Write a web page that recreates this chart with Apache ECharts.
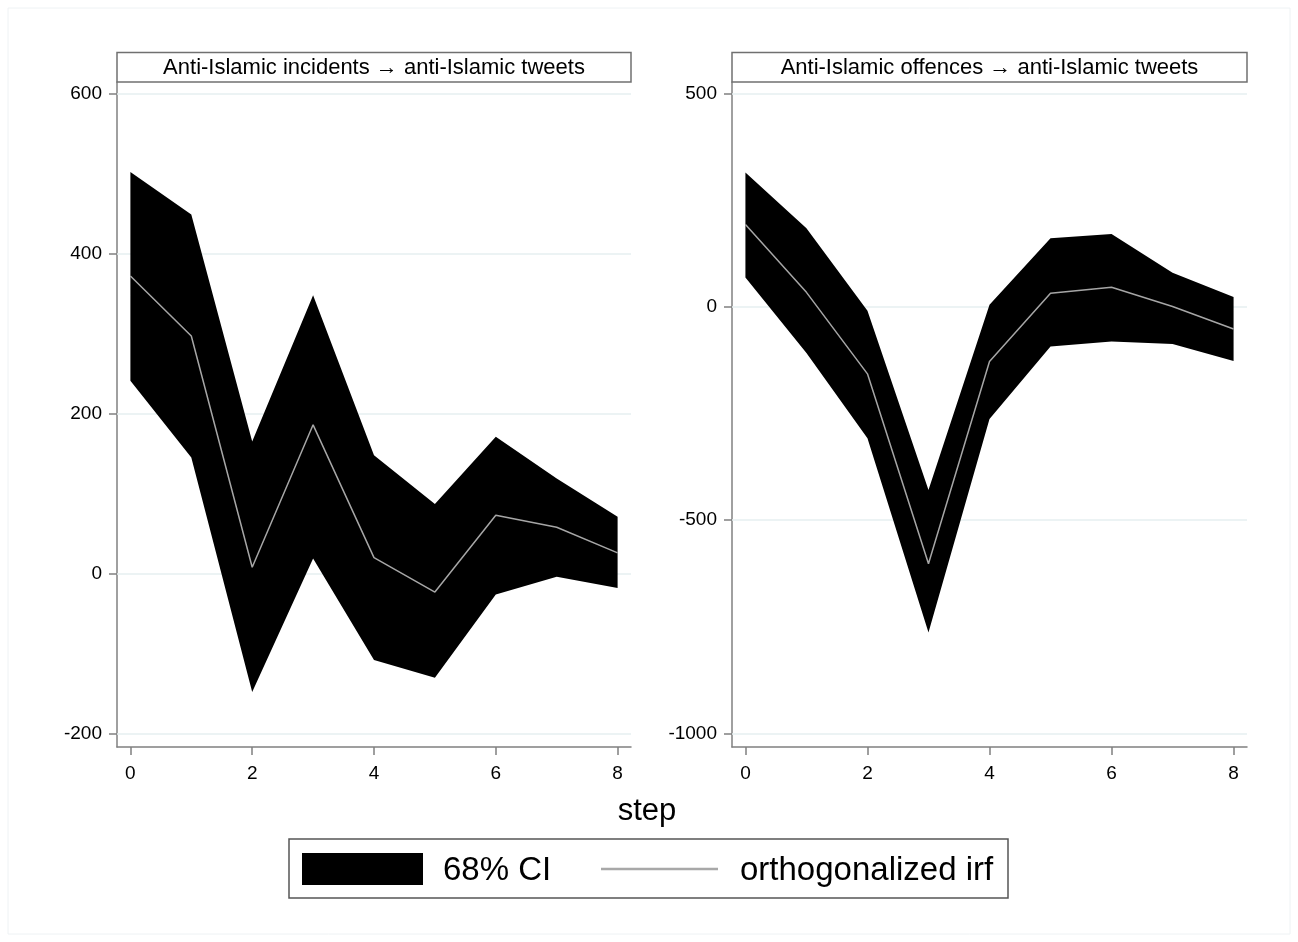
<!DOCTYPE html>
<html>
<head>
<meta charset="utf-8">
<style>
  html, body { margin: 0; padding: 0; background: #fff; }
  #chart { width: 1298px; height: 942px; }
</style>
<script src="https://cdn.jsdelivr.net/npm/echarts@6.0.0/dist/echarts.min.js"></script>
</head>
<body>
<div id="chart"></div>
<script>
// impulse responses
const steps = [0, 1, 2, 3, 4, 5, 6, 7, 8]
const incLower = [241, 145, -148, 19, -108, -130, -26, -4, -18]
const incIrf = [372, 297, 8, 186, 20, -23, 73, 58, 26]
const incUpper = [502, 449, 165, 348, 148, 87, 171, 119, 71]
const offLower = [69, -108, -308, -763, -263, -93, -81, -87, -127]
const offIrf = [193, 34, -157, -602, -128, 32, 46, 1, -52]
const offUpper = [315, 184, -9, -429, 5, 161, 171, 80, 23]

const xTicks = [0, 2, 4, 6, 8]
const incTicks = [-200, 0, 200, 400, 600]
const offTicks = [-1000, -500, 0, 500]

const panelTitles = ['Anti-Islamic incidents \u2192 anti-Islamic tweets', 'Anti-Islamic offences \u2192 anti-Islamic tweets']
const legendNames = ['68% CI', 'orthogonalized irf']
const xTitle = 'step'

const FONT = '"Liberation Sans", Arial, sans-serif'
const AXIS_GREY = '#808080'
const GRID_COLOR = '#e6eff1'

function xAxis(gridIndex) {
  return {
    type: 'value', gridIndex, min: -0.22, max: 8.22,
    splitLine: { show: false },
    axisLine: { onZero: false, lineStyle: { color: AXIS_GREY, width: 1.5 } },
    axisTick: { customValues: xTicks, length: 8, lineStyle: { color: AXIS_GREY, width: 1.5 } },
    axisLabel: { customValues: xTicks, color: '#000', fontSize: 19, fontFamily: FONT, margin: 17, formatter: v => String(v) }
  }
}

function yAxis(gridIndex, min, max, ticks) {
  return {
    type: 'value', gridIndex, min, max,
    splitLine: { show: false },
    axisLine: { show: true, onZero: false, lineStyle: { color: AXIS_GREY, width: 1.5 } },
    axisTick: { show: true, customValues: ticks, length: 8, lineStyle: { color: AXIS_GREY, width: 1.5 } },
    axisLabel: { customValues: ticks, color: '#000', fontSize: 19, fontFamily: FONT, margin: 15, formatter: v => String(v) }
  }
}

// black band between lower and upper bound, drawn as one polygon
function band(idx, lower, upper) {
  return {
    type: 'custom', xAxisIndex: idx, yAxisIndex: idx, z: 2, silent: true,
    data: [[0, 0]],
    renderItem(params, api) {
      const top = upper.map((v, i) => api.coord([steps[i], v]))
      const bottom = lower.map((v, i) => api.coord([steps[i], v])).reverse()
      return { type: 'polygon', shape: { points: top.concat(bottom) }, style: { fill: '#000' } }
    }
  }
}

function irfLine(idx, values, ticks) {
  return {
    type: 'line', xAxisIndex: idx, yAxisIndex: idx, z: 3, silent: true,
    data: steps.map((s, i) => [s, values[i]]),
    showSymbol: false,
    lineStyle: { color: '#a6a6a6', width: 1.5 },
    // light horizontal grid at the tick values, behind the band
    markLine: {
      silent: true, symbol: 'none', z: 1, label: { show: false },
      lineStyle: { color: GRID_COLOR, width: 1.5, type: 'solid' },
      data: ticks.map(v => ({ yAxis: v }))
    }
  }
}

function titleBox(x, w, text) {
  return [
    { type: 'rect', shape: { x, y: 52.5, width: w, height: 29.5 }, style: { fill: '#fff', stroke: '#707070', lineWidth: 1.5 }, z: 10 },
    { type: 'text', x: x + w / 2, y: 68, style: { text, fill: '#000', font: '22px ' + FONT, align: 'center', verticalAlign: 'middle' }, z: 11 }
  ]
}

const chart = echarts.init(document.getElementById('chart'), null, { renderer: 'canvas' })
chart.setOption({
  animation: false,
  backgroundColor: '#fff',
  grid: [
    { left: 117, top: 82, width: 514, height: 665 },
    { left: 732, top: 82, width: 515, height: 665 }
  ],
  xAxis: [xAxis(0), xAxis(1)],
  yAxis: [yAxis(0, -216.7, 614.5, incTicks), yAxis(1, -1031.6, 527, offTicks)],
  series: [
    band(0, incLower, incUpper),
    irfLine(0, incIrf, incTicks),
    band(1, offLower, offUpper),
    irfLine(1, offIrf, offTicks)
  ],
  graphic: [
    { type: 'rect', shape: { x: 8, y: 8, width: 1282, height: 926 }, style: { fill: 'none', stroke: '#eef2f4', lineWidth: 1 }, silent: true },
    ...titleBox(117, 514, panelTitles[0]),
    ...titleBox(732, 515, panelTitles[1]),
    { type: 'text', x: 647, y: 811, style: { text: xTitle, fill: '#000', font: '31px ' + FONT, align: 'center', verticalAlign: 'middle' } },
    // legend
    { type: 'rect', shape: { x: 289, y: 839, width: 719, height: 59 }, style: { fill: '#fff', stroke: '#555', lineWidth: 1.5 } },
    { type: 'rect', shape: { x: 302, y: 853, width: 121, height: 32 }, style: { fill: '#000' }, z: 5 },
    { type: 'text', x: 443, y: 871, style: { text: legendNames[0], fill: '#000', font: '33px ' + FONT, align: 'left', verticalAlign: 'middle' }, z: 5 },
    { type: 'line', shape: { x1: 601, y1: 869, x2: 718, y2: 869 }, style: { stroke: '#a8a8a8', lineWidth: 2.5 }, z: 5 },
    { type: 'text', x: 740, y: 871, style: { text: legendNames[1], fill: '#000', font: '33px ' + FONT, align: 'left', verticalAlign: 'middle' }, z: 5 }
  ]
})
</script>
</body>
</html>
